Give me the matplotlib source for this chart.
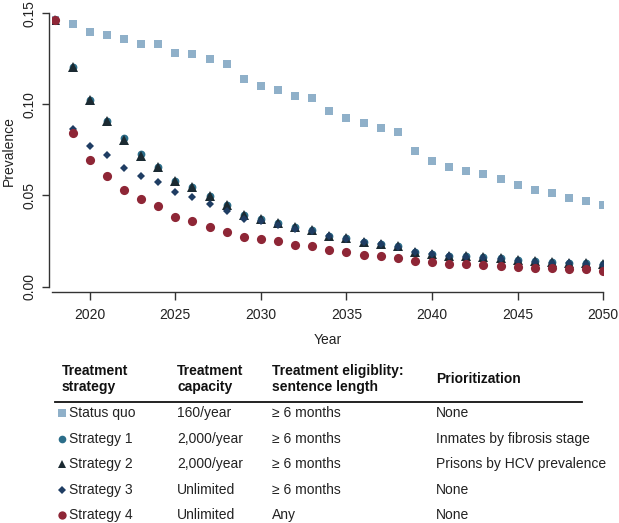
import matplotlib
matplotlib.use("Agg")
import matplotlib.pyplot as plt
import numpy as np

plt.rcParams["font.family"] = ["Liberation Sans", "DejaVu Sans"]
plt.rcParams["font.size"] = 10

years = np.arange(2018, 2051)

status_quo = [0.1464, 0.1439, 0.1398, 0.1382, 0.1356, 0.1332, 0.1332, 0.1280, 0.1276,
              0.1248, 0.1223, 0.1140, 0.1102, 0.1077, 0.1047, 0.1033, 0.0962, 0.0927,
              0.0896, 0.0870, 0.0846, 0.0742, 0.0691, 0.0658, 0.0633, 0.0618, 0.0590,
              0.0558, 0.0528, 0.0512, 0.0488, 0.0468, 0.0446]
strategy1 = [0.1464, 0.1203, 0.1024, 0.0910, 0.0815, 0.0725, 0.0655, 0.0581, 0.0548,
             0.0499, 0.0448, 0.0395, 0.0371, 0.0348, 0.0326, 0.0311, 0.0280, 0.0265,
             0.0247, 0.0236, 0.0221, 0.0192, 0.0181, 0.0170, 0.0168, 0.0163, 0.0156,
             0.0145, 0.0141, 0.0135, 0.0132, 0.0128, 0.0124]
strategy2 = [0.1464, 0.1203, 0.1024, 0.0910, 0.0803, 0.0717, 0.0655, 0.0581, 0.0548,
             0.0499, 0.0448, 0.0395, 0.0371, 0.0348, 0.0326, 0.0311, 0.0280, 0.0265,
             0.0247, 0.0236, 0.0221, 0.0192, 0.0181, 0.0170, 0.0168, 0.0163, 0.0156,
             0.0145, 0.0141, 0.0135, 0.0132, 0.0128, 0.0124]
strategy3 = [0.1464, 0.0865, 0.0770, 0.0720, 0.0651, 0.0607, 0.0574, 0.0518, 0.0493,
             0.0455, 0.0413, 0.0371, 0.0360, 0.0337, 0.0318, 0.0304, 0.0276, 0.0261,
             0.0243, 0.0232, 0.0217, 0.0188, 0.0177, 0.0166, 0.0164, 0.0159, 0.0152,
             0.0141, 0.0137, 0.0131, 0.0128, 0.0124, 0.0120]
strategy4 = [0.1464, 0.0843, 0.0693, 0.0609, 0.0528, 0.0479, 0.0444, 0.0384, 0.0360,
             0.0329, 0.0302, 0.0272, 0.0262, 0.0249, 0.0230, 0.0221, 0.0200, 0.0189,
             0.0174, 0.0168, 0.0157, 0.0139, 0.0134, 0.0126, 0.0126, 0.0121, 0.0115,
             0.0110, 0.0103, 0.0101, 0.0099, 0.0095, 0.0088]

names = ["Status quo", "Strategy 1", "Strategy 2", "Strategy 3", "Strategy 4"]
capacity = ["160/year", "2,000/year", "2,000/year", "Unlimited", "Unlimited"]
eligibility = ["\u2265 6 months", "\u2265 6 months", "\u2265 6 months", "\u2265 6 months", "Any"]
priority = ["None", "Inmates by fibrosis stage", "Prisons by HCV prevalence", "None", "None"]
headers = ["Treatment\nstrategy", "Treatment\ncapacity", "Treatment eligiblity:\nsentence length",
           "Prioritization"]

series = [status_quo, strategy1, strategy2, strategy3, strategy4]
colors = ["#8fb0c9", "#2c6e8a", "#1b2a32", "#1f3d63", "#8e2636"]
markers = ["s", "o", "^", "D", "o"]
sizes = [6.2, 5.6, 6.8, 4.2, 6.6]
legend_sizes = [5.5, 5.5, 6, 4, 6]

W, H = 619, 523
fig = plt.figure(figsize=(W / 100, H / 100), dpi=100)
ax = fig.add_axes([52 / W, 1 - 292.3 / H, (603.3 - 52) / W, (292.3 - 9.8) / H])

for vals, c, m, s in zip(series, colors, markers, sizes):
    ax.plot(years, vals, linestyle="none", marker=m, color=c, markersize=s, markeredgewidth=0)

ax.set_xlim(2017.8, 2050)
ax.set_ylim(-0.0031, 0.1518)
ax.set_xticks(np.arange(2020, 2051, 5))
ax.set_yticks([0, 0.05, 0.10, 0.15])
ax.set_yticklabels(["0.00", "0.05", "0.10", "0.15"])
for sp in ["top", "right"]:
    ax.spines[sp].set_visible(False)
ax.spines["left"].set_bounds(0, 0.15)
ax.spines["left"].set_position(("outward", 2))
ax.spines["bottom"].set_bounds(2017.8, 2050)
for sp in ["left", "bottom"]:
    ax.spines[sp].set_color("#333333")
    ax.spines[sp].set_linewidth(1.0)
ax.tick_params(axis="x", length=6, width=1.0, color="#333333", pad=5, labelcolor="#222222")
ax.tick_params(axis="y", length=5, width=1.0, color="#333333", pad=4, labelcolor="#222222",
               labelrotation=90)
for lab in ax.get_yticklabels():
    lab.set_va("center")
ax.set_xlabel("Year", color="#222222", labelpad=8)
ax.set_ylabel("Prevalence", color="#222222", labelpad=5)

# table beneath the plot, in pixel coordinates
tab = fig.add_axes([0, 0, 1, 1])
tab.set_xlim(0, W)
tab.set_ylim(H, 0)
tab.axis("off")

col_x = [62, 177, 272, 436]
for x, h in zip(col_x, headers):
    tab.text(x, 379, h, fontweight="bold", va="center", ha="left", color="#111111",
             linespacing=1.15)
tab.plot([55, 582], [402, 402], color="#111111", linewidth=1.3)

row_y = [413, 439, 464, 490, 515]
for i, y in enumerate(row_y):
    tab.plot([62], [y], marker=markers[i], color=colors[i], markersize=legend_sizes[i],
             markeredgewidth=0)
    tab.text(69, y, names[i], va="center", color="#222222")
    tab.text(col_x[1], y, capacity[i], va="center", color="#222222")
    tab.text(col_x[2], y, eligibility[i], va="center", color="#222222")
    tab.text(col_x[3], y, priority[i], va="center", color="#222222")

fig.savefig("out.png", dpi=100)
